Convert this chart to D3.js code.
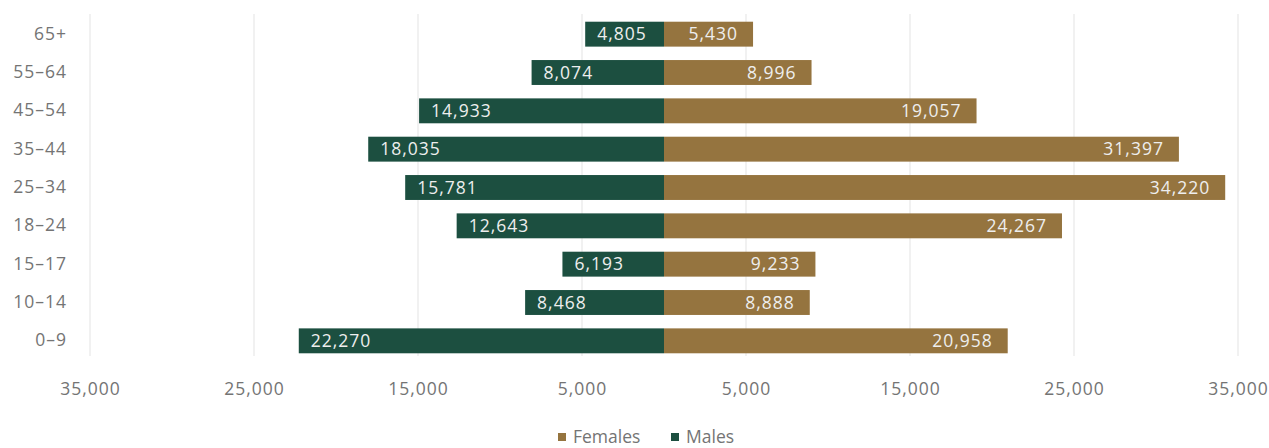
<!DOCTYPE html>
<html><head><meta charset="utf-8">
<script src="https://cdn.jsdelivr.net/npm/d3@7"></script>
<style>body{margin:0;background:#fff;} svg{display:block;}</style>
</head><body>
<svg id="chart" width="1269" height="448"></svg>
<script>
const categories = ["65+","55–64","45–54","35–44","25–34","18–24","15–17","10–14","0–9"];
const males   = [4805, 8074, 14933, 18035, 15781, 12643, 6193, 8468, 22270];
const females = [5430, 8996, 19057, 31397, 34220, 24267, 9233, 8888, 20958];
const tickValues = [-35000,-25000,-15000,-5000,5000,15000,25000,35000];
const seriesNames = ["Females","Males"];

const W = 1269, H = 448;
const colMale = "#1c4f40", colFemale = "#95743f", textCol = "#747474";
const font = "'Open Sans', sans-serif";
const fs = 17.5, ls = "1px";
const svg = d3.select("#chart");
const fmt = d3.format(",");

const x = d3.scaleLinear().domain([-35000, 35000]).range([90, 1238]);
const y = d3.scaleBand().domain(categories).range([15, 360]).paddingInner(0.35).paddingOuter(0.175);

// gridlines
svg.append("g").selectAll("line").data(tickValues).join("line")
  .attr("x1", d => x(d)).attr("x2", d => x(d))
  .attr("y1", 14).attr("y2", 356)
  .attr("stroke", "#e3e3e3").attr("stroke-width", 1);

// x axis
const xAxis = d3.axisBottom(x).tickValues(tickValues).tickSize(0).tickPadding(0)
  .tickFormat(d => fmt(Math.abs(d)));
const gx = svg.append("g").attr("transform", "translate(0,383)").call(xAxis);
gx.select(".domain").remove();
gx.selectAll("text").attr("fill", textCol).attr("font-family", font).attr("font-size", fs).attr("letter-spacing", ls);

// y axis
const yAxis = d3.axisLeft(y).tickSize(0).tickPadding(0);
const gy = svg.append("g").attr("transform", "translate(67,0)").call(yAxis);
gy.select(".domain").remove();
gy.selectAll("text").attr("fill", textCol).attr("font-family", font).attr("font-size", fs).attr("letter-spacing", ls);

// bars
const bh = y.bandwidth();
svg.append("g").selectAll("rect").data(categories).join("rect")
  .attr("x", (d,i) => x(-males[i])).attr("width", (d,i) => x(0) - x(-males[i]))
  .attr("y", d => y(d)).attr("height", bh).attr("fill", colMale);
svg.append("g").selectAll("rect").data(categories).join("rect")
  .attr("x", x(0)).attr("width", (d,i) => x(females[i]) - x(0))
  .attr("y", d => y(d)).attr("height", bh).attr("fill", colFemale);

// labels
svg.append("g").selectAll("text").data(categories).join("text")
  .attr("x", (d,i) => x(-males[i]) + 12).attr("y", d => y(d) + bh/2)
  .attr("dy", "0.35em").attr("text-anchor", "start")
  .attr("fill", "#eeeeee").attr("font-family", font).attr("font-size", fs).attr("letter-spacing", ls)
  .text((d,i) => fmt(males[i]));
svg.append("g").selectAll("text").data(categories).join("text")
  .attr("x", (d,i) => x(females[i]) - 15).attr("y", d => y(d) + bh/2)
  .attr("dy", "0.35em").attr("text-anchor", "end")
  .attr("fill", "#eeeeee").attr("font-family", font).attr("font-size", fs).attr("letter-spacing", ls)
  .text((d,i) => fmt(females[i]));

// legend
const leg = svg.append("g");
const legItems = [{name: seriesNames[0], c: colFemale, x: 558}, {name: seriesNames[1], c: colMale, x: 671}];
legItems.forEach(it => {
  leg.append("rect").attr("x", it.x).attr("y", 433).attr("width", 8).attr("height", 8).attr("fill", it.c);
  leg.append("text").attr("x", it.x + 15).attr("y", 437).attr("dy", "0.35em")
    .attr("fill", textCol).attr("font-family", font).attr("font-size", fs).text(it.name);
});
</script>
</body></html>
